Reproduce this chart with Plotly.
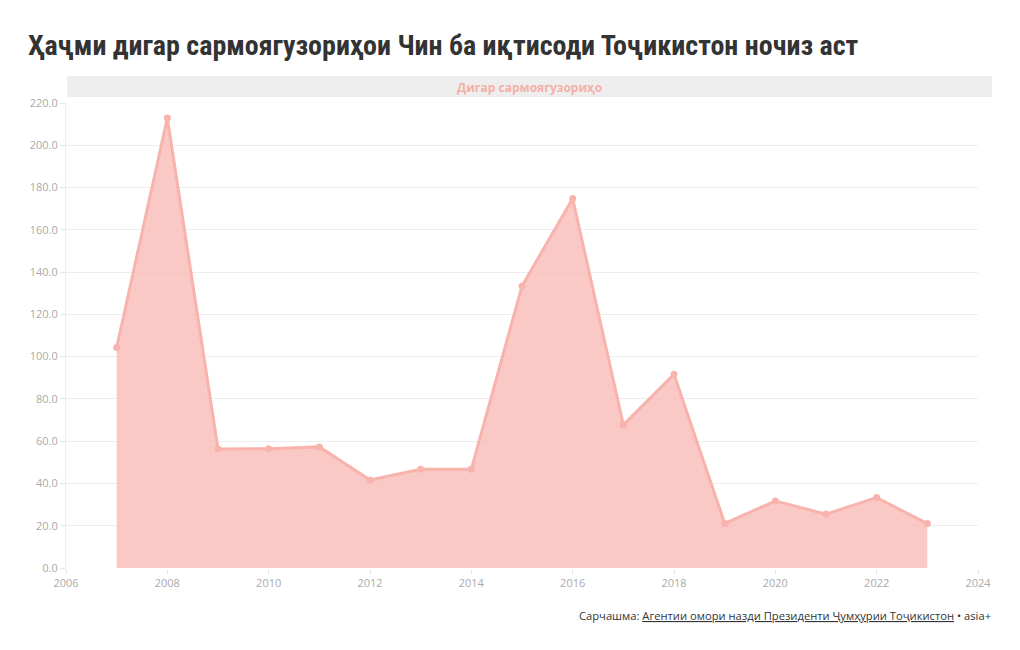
import plotly.graph_objects as go

years = [2007, 2008, 2009, 2010, 2011, 2012, 2013, 2014, 2015, 2016, 2017, 2018, 2019, 2020, 2021, 2022, 2023]
values = [104.3, 212.9, 56.3, 56.4, 57.3, 41.6, 46.7, 46.7, 133.4, 174.8, 67.7, 91.7, 21.1, 31.7, 25.5, 33.3, 21.0]

title_text = "Ҳаҷми дигар сармоягузориҳои Чин ба иқтисоди Тоҷикистон ночиз аст"
series_name = "Дигар сармоягузориҳо"
x_ticks = [2006, 2008, 2010, 2012, 2014, 2016, 2018, 2020, 2022, 2024]
y_ticks = [0, 20, 40, 60, 80, 100, 120, 140, 160, 180, 200, 220]

line_color = "#f8b3ac"
fill_color = "rgba(248,186,182,0.78)"

fig = go.Figure()
fig.add_trace(go.Scatter(
    x=years, y=values, mode="lines+markers", name=series_name,
    line=dict(color=line_color, width=3),
    marker=dict(color=line_color, size=7),
    fill="tozeroy", fillcolor=fill_color,
    showlegend=False,
))

tick_font = dict(family="Open Sans, sans-serif", size=11, color="#aaaaaa")

fig.update_layout(
    width=1020, height=650,
    margin=dict(l=66, r=42, t=103, b=82),
    paper_bgcolor="white", plot_bgcolor="white",
    title=dict(
        text=title_text,
        font=dict(family="Roboto Condensed, Liberation Sans Narrow, Roboto, sans-serif", size=28, color="#333333", weight="bold"),
        xref="container", yref="container", x=28/1020, xanchor="left", y=1-45/650, yanchor="middle",
    ),
    xaxis=dict(
        range=[2006, 2024], tickvals=x_ticks, ticktext=[str(v) for v in x_ticks],
        showgrid=False, zeroline=False, showline=False,
        ticks="outside", ticklen=5, tickcolor="#e6e6e6", tickfont=tick_font,
    ),
    yaxis=dict(
        range=[0, 220], tickvals=y_ticks, ticktext=[f"{v:.1f}" for v in y_ticks],
        showgrid=True, gridcolor="#eeeeee", gridwidth=1, zeroline=False,
        showline=True, linecolor="#eeeeee", linewidth=1,
        ticks="outside", ticklen=5, tickcolor="#e6e6e6", tickfont=tick_font,
    ),
)

# header band
fig.add_shape(type="rect", xref="paper", yref="paper",
              x0=1/912, x1=(992-66)/912, y0=(568-97)/465, y1=(568-76)/465,
              fillcolor="#eeeeee", line=dict(width=0), layer="below")
fig.add_annotation(xref="paper", yref="paper", x=(67+992-132)/2/912, y=(568-87)/465,
                   text="<b>" + series_name + "</b>", showarrow=False,
                   font=dict(family="Open Sans, sans-serif", size=12, color="#f5b0a8"),
                   xanchor="center", yanchor="middle")

# source footer
fig.add_annotation(xref="paper", yref="paper", x=(993-66)/912, y=-(615-568)/465,
                   xanchor="right", yanchor="middle", showarrow=False,
                   text="Сарчашма: <span style='text-decoration:underline'>Агентии омори назди Президенти Ҷумҳурии Тоҷикистон</span> • asia+",
                   font=dict(family="Open Sans, sans-serif", size=11.2, color="#333333"))

fig.write_html("out.html")
